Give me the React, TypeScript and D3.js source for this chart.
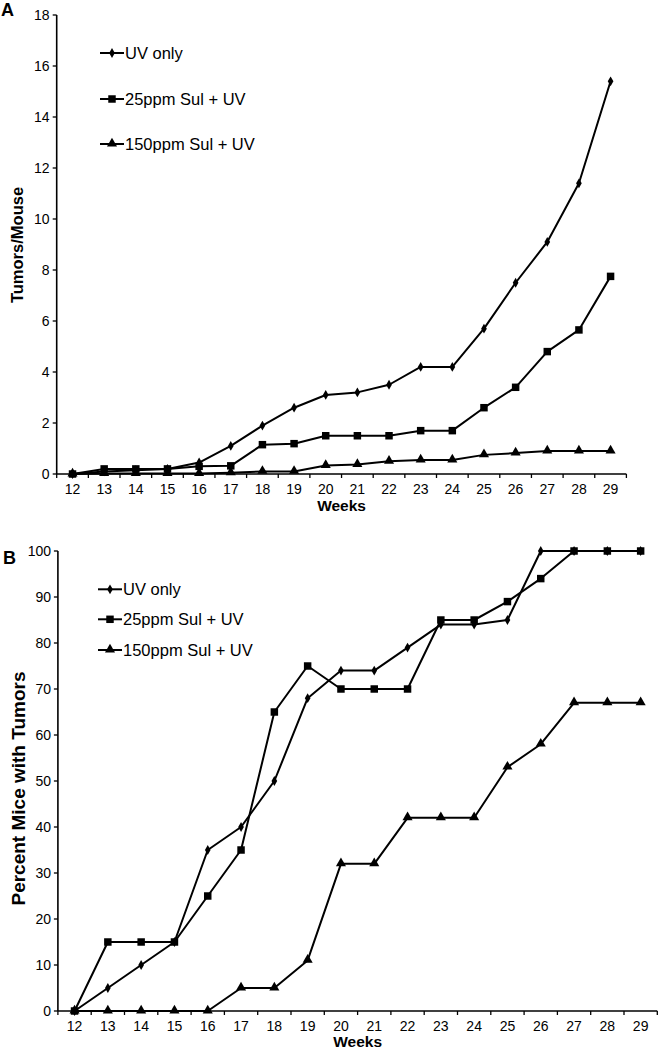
import React from "react";
import * as d3 from "d3";

const weeks = [12, 13, 14, 15, 16, 17, 18, 19, 20, 21, 22, 23, 24, 25, 26, 27, 28, 29];
const seriesNames = ["UV only", "25ppm Sul + UV", "150ppm Sul + UV"];

// Panel A: tumors per mouse
const tumorsUV = [0, 0.1, 0.15, 0.2, 0.45, 1.1, 1.9, 2.6, 3.1, 3.2, 3.5, 4.2, 4.2, 5.7, 7.5, 9.1, 11.4, 15.4];
const tumors25 = [0, 0.2, 0.2, 0.2, 0.3, 0.32, 1.15, 1.19, 1.5, 1.5, 1.5, 1.7, 1.7, 2.6, 3.4, 4.8, 5.65, 7.75];
const tumors150 = [0, 0.02, 0.02, 0.02, 0.02, 0.05, 0.1, 0.1, 0.33, 0.37, 0.5, 0.55, 0.55, 0.75, 0.82, 0.9, 0.9, 0.9];
const ticksA = [0, 2, 4, 6, 8, 10, 12, 14, 16, 18];

// Panel B: percent mice with tumors
const pctUV = [0, 5, 10, 15, 35, 40, 50, 68, 74, 74, 79, 84, 84, 85, 100, 100, 100, 100];
const pct25 = [0, 15, 15, 15, 25, 35, 65, 75, 70, 70, 70, 85, 85, 89, 94, 100, 100, 100];
const pct150 = [0, 0, 0, 0, 0, 5, 5, 11, 32, 32, 42, 42, 42, 53, 58, 67, 67, 67];
const ticksB = [0, 10, 20, 30, 40, 50, 60, 70, 80, 90, 100];

const FONT = "'Liberation Sans', Arial, Helvetica, sans-serif";
const symbols = [d3.symbolDiamond, d3.symbolSquare, d3.symbolTriangle];
const symSizes = [28, 56, 44];

type PanelProps = {
  label: string;
  labelY: number;
  series: number[][];
  yTicks: number[];
  yMax: number;
  xRange: [number, number];
  yRange: [number, number];
  yTitle: string;
  yTitleX: number;
  yTitleY: number;
  yTitleSize: number;
  yLabelEnd: number;
  yTickSize: number;
  xLabelBase: number;
  weeksBase: number;
  legendYs: number[];
  legendX: number;
};

function Marker({ i, x, y }: { i: number; x: number; y: number }) {
  const path = d3.symbol().type(symbols[i]).size(symSizes[i])() || "";
  const sy = i === 2 ? y - 0.5 : y;
  return <path d={path} transform={`translate(${x},${sy})`} fill="#000" />;
}

function Panel(p: PanelProps) {
  const x = d3.scaleBand<number>().domain(weeks).range(p.xRange).padding(0);
  const y = d3.scaleLinear().domain([0, p.yMax]).range(p.yRange);
  const cx = (w: number) => (x(w) as number) + x.bandwidth() / 2;
  const line = d3
    .line<number>()
    .x((_, i) => cx(weeks[i]))
    .y((d) => y(d));
  const x0 = p.xRange[0];
  const axisY = p.yRange[0];
  const boundaries = d3.range(weeks.length + 1).map((i) => x0 + i * x.bandwidth());
  return (
    <g>
      <text x={p.label === "A" ? 1 : 3} y={p.labelY} fontFamily={FONT} fontWeight="bold" fontSize={18}>
        {p.label}
      </text>
      {/* y axis */}
      <line x1={x0} x2={x0} y1={p.yRange[1]} y2={axisY} stroke="#000" strokeWidth={1.6} />
      {p.yTicks.map((t) => (
        <g key={t}>
          <line x1={x0 - 4} x2={x0} y1={y(t)} y2={y(t)} stroke="#000" strokeWidth={1.3} />
          <text
            x={p.yLabelEnd}
            y={y(t)}
            dy="0.36em"
            textAnchor="end"
            fontFamily={FONT}
            fontSize={p.yTickSize}
          >
            {t}
          </text>
        </g>
      ))}
      {/* x axis */}
      <line x1={x0} x2={p.xRange[1]} y1={axisY} y2={axisY} stroke="#000" strokeWidth={1.6} />
      {boundaries.map((b, i) => (
        <line key={i} x1={b} x2={b} y1={axisY} y2={axisY + 4} stroke="#000" strokeWidth={1.3} />
      ))}
      {weeks.map((w) => (
        <text key={w} x={cx(w)} y={p.xLabelBase} textAnchor="middle" fontFamily={FONT} fontSize={14}>
          {w}
        </text>
      ))}
      <text
        x={(p.xRange[0] + p.xRange[1]) / 2}
        y={p.weeksBase}
        textAnchor="middle"
        fontFamily={FONT}
        fontWeight="bold"
        fontSize={15.5}
      >
        Weeks
      </text>
      <text
        transform={`translate(${p.yTitleX},${p.yTitleY}) rotate(-90)`}
        textAnchor="middle"
        fontFamily={FONT}
        fontWeight="bold"
        fontSize={p.yTitleSize}
      >
        {p.yTitle}
      </text>
      {/* series */}
      {p.series.map((s, si) => (
        <g key={si}>
          <path d={line(s) || ""} fill="none" stroke="#000" strokeWidth={2} strokeLinejoin="round" />
          {s.map((v, i) => (
            <Marker key={i} i={si} x={cx(weeks[i])} y={y(v)} />
          ))}
        </g>
      ))}
      {/* legend */}
      {seriesNames.map((n, i) => (
        <g key={n}>
          <line
            x1={p.legendX}
            x2={p.legendX + 24}
            y1={p.legendYs[i]}
            y2={p.legendYs[i]}
            stroke="#000"
            strokeWidth={2}
          />
          <Marker i={i} x={p.legendX + 12} y={p.legendYs[i]} />
          <text x={p.legendX + 25} y={p.legendYs[i]} dy="0.36em" fontFamily={FONT} fontSize={16.5}>
            {n}
          </text>
        </g>
      ))}
    </g>
  );
}

export default function App() {
  return (
    <div style={{ position: "absolute", left: 0, top: 0 }}>
      <svg width={659} height={1049} style={{ display: "block", background: "#fff" }}>
        <Panel
          label="A"
          labelY={16}
          series={[tumorsUV, tumors25, tumors150]}
          yTicks={ticksA}
          yMax={18}
          xRange={[56.7, 626.4]}
          yRange={[474, 15]}
          yTitle="Tumors/Mouse"
          yTitleX={23}
          yTitleY={245}
          yTitleSize={16.5}
          yLabelEnd={49.5}
          yTickSize={14}
          xLabelBase={493.5}
          weeksBase={510.5}
          legendYs={[53, 99, 144]}
          legendX={100}
        />
        <Panel
          label="B"
          labelY={564}
          series={[pctUV, pct25, pct150]}
          yTicks={ticksB}
          yMax={100}
          xRange={[57.9, 657.3]}
          yRange={[1011, 551]}
          yTitle="Percent Mice with Tumors"
          yTitleX={25}
          yTitleY={788.5}
          yTitleSize={19}
          yLabelEnd={51}
          yTickSize={14}
          xLabelBase={1031}
          weeksBase={1047}
          legendYs={[589.3, 619.3, 650]}
          legendX={98}
        />
      </svg>
    </div>
  );
}
